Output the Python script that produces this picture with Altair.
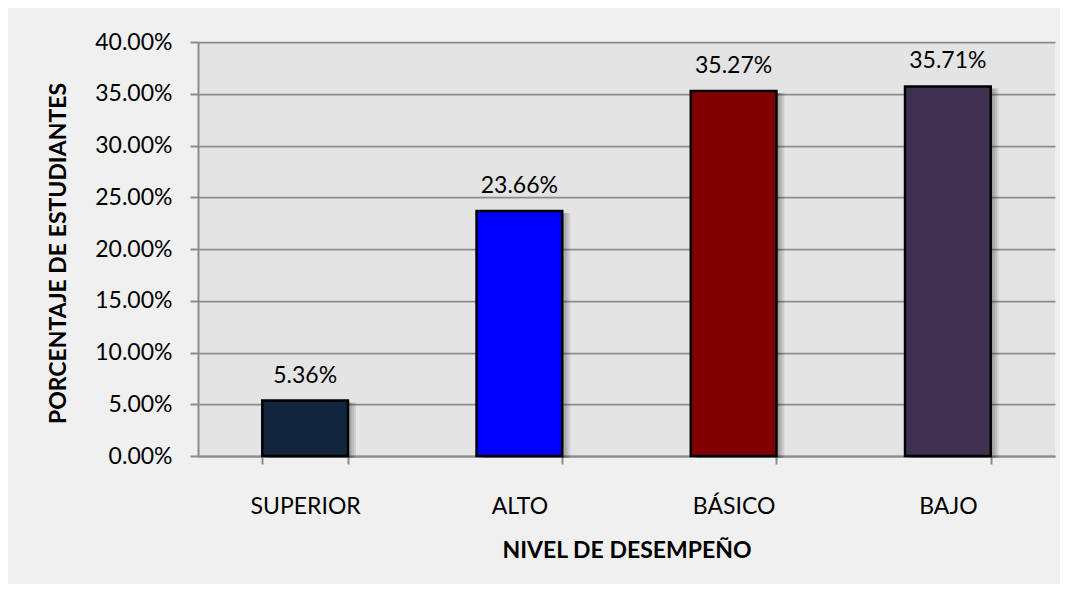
import altair as alt
import pandas as pd

categories = ["SUPERIOR", "ALTO", "BÁSICO", "BAJO"]
values = [0.0536, 0.2366, 0.3527, 0.3571]
colors = ["#12263F", "#0000FF", "#800000", "#403152"]
y_ticks = [0, 0.05, 0.10, 0.15, 0.20, 0.25, 0.30, 0.35, 0.40]

df = pd.DataFrame({"cat": categories, "val": values, "color": colors})

FONT = "Lato"

x_enc = alt.X(
    "cat:N",
    sort=categories,
    scale=alt.Scale(paddingInner=0.6, paddingOuter=0.3),
    axis=alt.Axis(
        title="NIVEL DE DESEMPEÑO",
        labelAngle=0,
        tickBand="extent",
        tickSize=8,
        tickWidth=2,
        tickColor="#8C8C8C",
        domainColor="#8C8C8C",
        domainWidth=2,
        labelPadding=31,
        labelFontSize=23,
        labelFont=FONT,
        labelColor="#000000",
        titleFont=FONT,
        titleFontSize=23,
        titleFontWeight="bold",
        titleColor="#000000",
        titleBaseline="middle",
        titleY=94,
        titleX=428.5,
        grid=False,
    ),
)

y_enc = alt.Y(
    "val:Q",
    scale=alt.Scale(domain=[0, 0.4]),
    axis=alt.Axis(
        title="PORCENTAJE DE ESTUDIANTES",
        values=y_ticks,
        format=".2%",
        tickSize=8,
        tickWidth=2,
        tickColor="#8C8C8C",
        domainColor="#8C8C8C",
        domainWidth=2,
        gridColor="#8C8C8C",
        gridWidth=1.75,
        labelPadding=18,
        labelFontSize=23,
        labelFont=FONT,
        labelColor="#000000",
        titleFont=FONT,
        titleFontSize=23,
        titleFontWeight="bold",
        titleColor="#000000",
        titleAngle=270,
        titleBaseline="middle",
        titleAlign="center",
        titleX=-140,
        titleY=211,
    ),
)

base = alt.Chart(df)

shadows = [
    base.mark_bar(color="#000000", opacity=0.09, xOffset=off, yOffset=2)
    .encode(x=x_enc, y=y_enc)
    for off in (2, 4, 6, 8)
]

bars = base.mark_bar(stroke="#000000", strokeWidth=2.5).encode(
    x=x_enc,
    y=y_enc,
    color=alt.Color("color:N", scale=None),
)

labels = base.mark_text(
    baseline="alphabetic", dy=-18, fontSize=23, font=FONT, color="#000000"
).encode(
    x=x_enc,
    y=y_enc,
    text=alt.Text("val:Q", format=".2%"),
)

chart = (
    alt.layer(*shadows, bars, labels)
    .properties(
        width=857,
        height=414,
        background="#F0F0F0",
        padding={"left": 190, "top": 34, "right": 5, "bottom": 128},
        autosize=alt.AutoSizeParams(type="none"),
    )
    .configure_view(fill="#E4E4E4", stroke=None)
)

chart.save("out.html", embed_options={"renderer": "svg", "actions": False})
